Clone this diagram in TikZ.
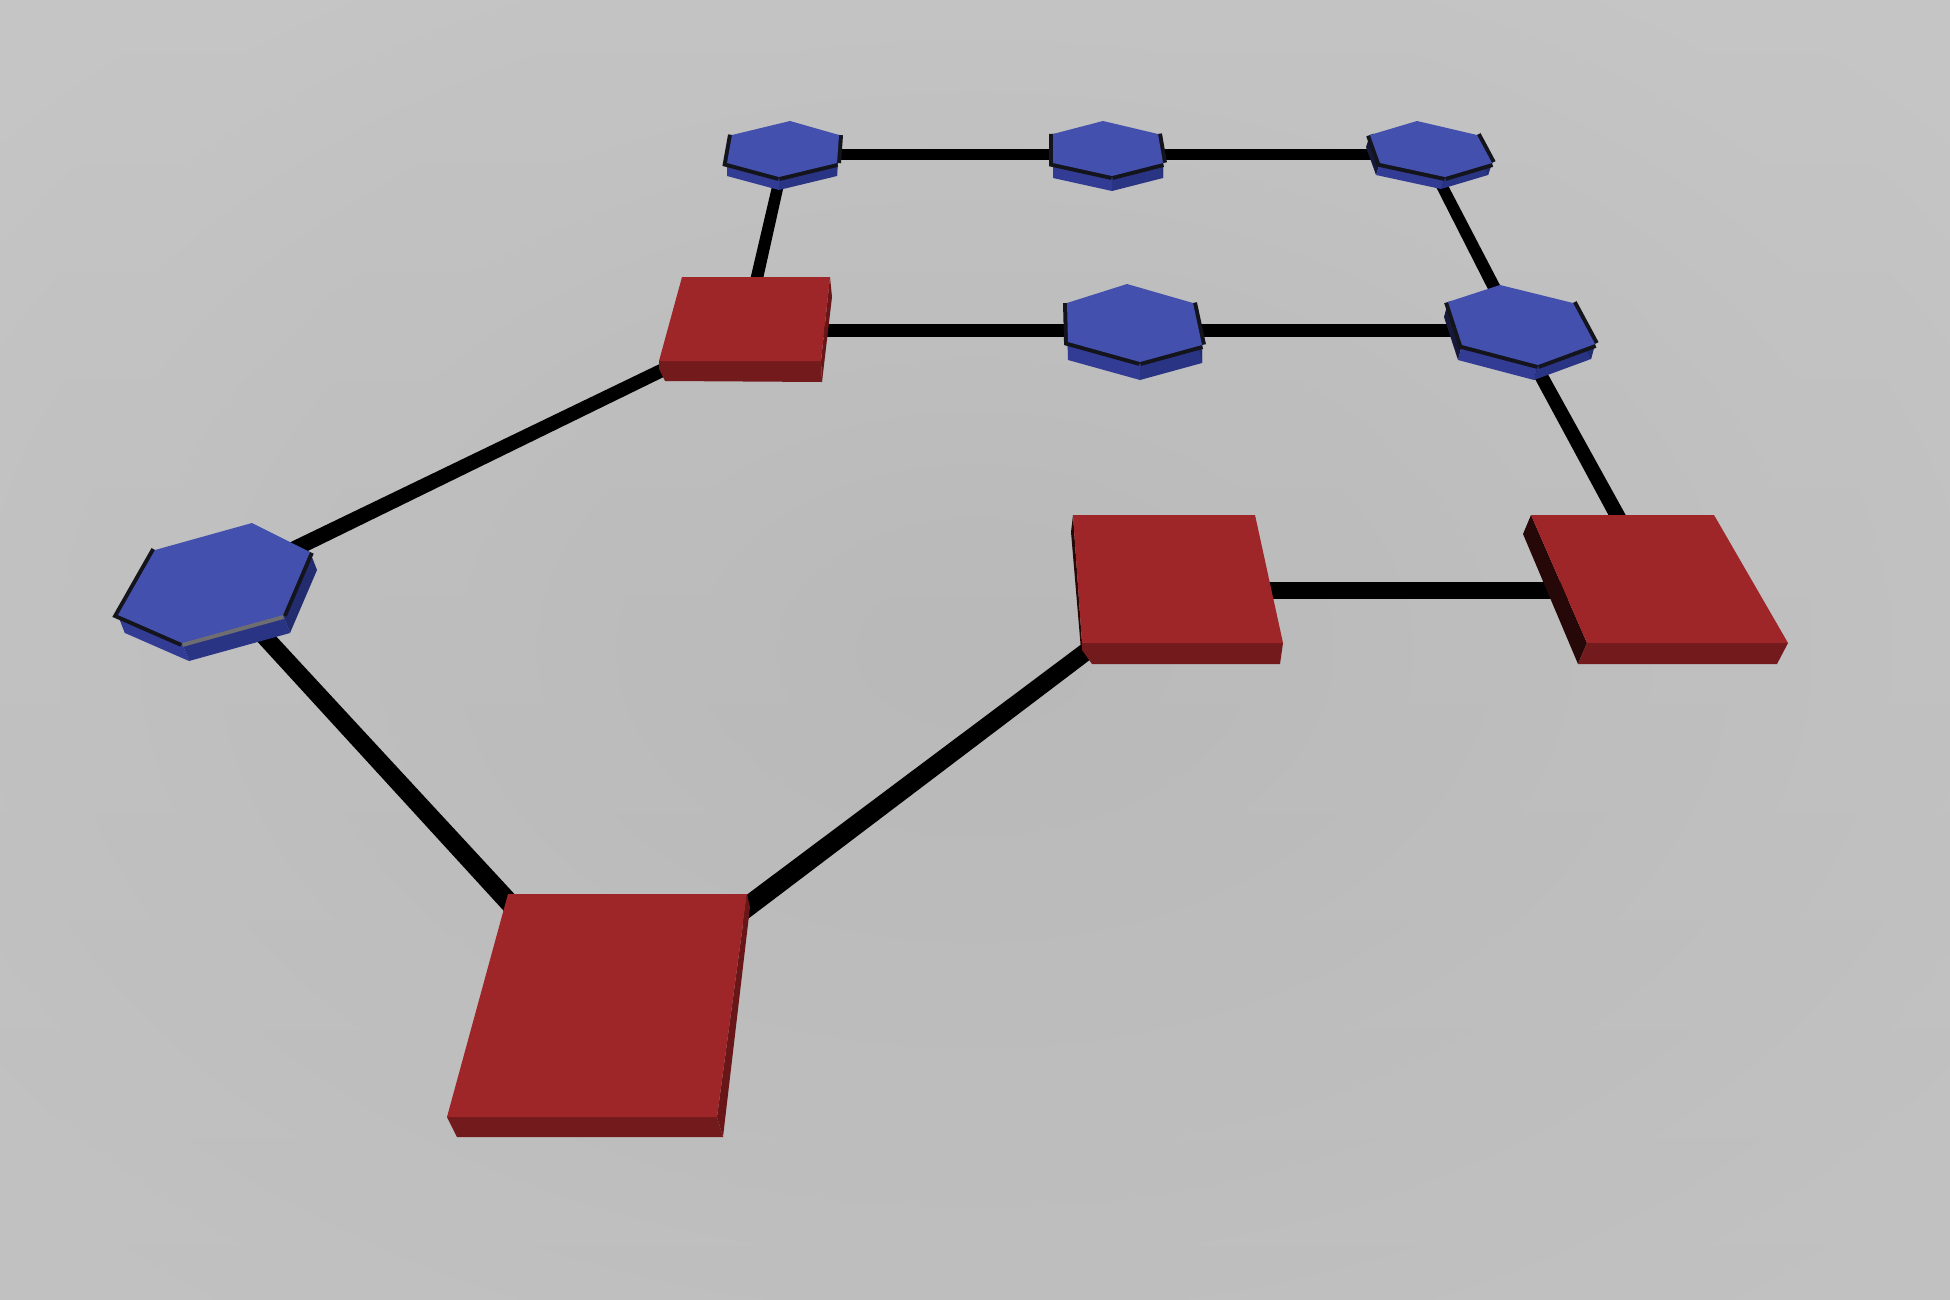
\documentclass[tikz,border=0pt]{standalone}
\usetikzlibrary{calc}
\definecolor{bgtop}{RGB}{198,199,198}
\definecolor{bgmid}{RGB}{180,181,180}
\definecolor{bgouter}{RGB}{196,197,196}
\definecolor{bgbot}{RGB}{186,187,186}
\definecolor{hexTop}{RGB}{67,80,174}
\definecolor{hexSideA}{RGB}{50,60,148}
\definecolor{hexSideB}{RGB}{42,52,132}
\definecolor{hexRight}{RGB}{36,44,112}
\definecolor{hexLeft}{RGB}{22,25,60}
\definecolor{bandDark}{RGB}{20,20,28}
\definecolor{bandGrey}{RGB}{110,110,112}
\definecolor{redTop}{RGB}{158,37,40}
\definecolor{redFront}{RGB}{115,26,29}
\definecolor{redRight}{RGB}{105,22,25}
\definecolor{redLeft}{RGB}{38,8,8}
\tikzset{
  conncol/.style={fill=black},
  hextop/.style={fill=hexTop},
  hexsidea/.style={fill=hexSideA},
  hexsideb/.style={fill=hexSideB},
  hexright/.style={fill=hexRight},
  hexleft/.style={fill=hexLeft},
  hexband/.style={draw=bandDark,line width=8pt},
  redtop/.style={fill=redTop},
  redfront/.style={fill=redFront},
  redright/.style={fill=redRight},
  redleft/.style={fill=redLeft}
}
% connector with tapering width: #1,#2 named coordinates, #3,#4 half widths
\newcommand\conn[4]{%
  \fill[conncol] ($(#1)!#3!90:(#2)$) -- ($(#1)!#3!-90:(#2)$) --
    ($(#2)!#4!90:(#1)$) -- ($(#2)!#4!-90:(#1)$) -- cycle;}
% extruded hexagon: six top vertices, offset, colour of lower-right band
\newcommand\hexbody[8]{%
  \fill[hexleft] (#1) -- (#6) -- ($(#6)+(#7)$) -- ($(#1)+(#7)$) -- cycle;
  \fill[hexsidea] (#6) -- (#5) -- ($(#5)+(#7)$) -- ($(#6)+(#7)$) -- cycle;
  \fill[hexsideb] (#5) -- (#4) -- ($(#4)+(#7)$) -- ($(#5)+(#7)$) -- cycle;
  \fill[hexright] (#4) -- (#3) -- ($(#3)+(#7)$) -- ($(#4)+(#7)$) -- cycle;
  \draw[hexband] (#1) -- (#6) -- (#5);
  \draw[hexband,draw=#8] (#5) -- (#4);
  \draw[hexband] (#4) -- (#3);
  \fill[hextop] (#1) -- (#2) -- (#3) -- (#4) -- (#5) -- (#6) -- cycle;}
\begin{document}
\begin{tikzpicture}[x=1pt,y=-1pt]
\useasboundingbox (0,0) rectangle (1950,1300);
\shade[inner color=bgmid,outer color=bgouter] (-300,-200) rectangle (2250,1500);
\shade[top color=bgtop,bottom color=bgbot,opacity=0.35] (0,0) rectangle (1950,1300);
% anchors (ground centres of the elements)
\coordinate (A) at (218,586);
\coordinate (B) at (785,155);
\coordinate (C) at (1108,155);
\coordinate (D) at (1426,155);
\coordinate (E) at (1134,330);
\coordinate (F) at (1516,330);
\coordinate (G) at (745,330);
\coordinate (H) at (1168,590);
\coordinate (I) at (1658,590);
\coordinate (J) at (609,1011);
% connectors
\conn{B}{C}{5.5pt}{5.5pt}
\conn{C}{D}{5.5pt}{5.5pt}
\conn{B}{G}{5.5pt}{6.5pt}
\conn{D}{F}{5.5pt}{6.5pt}
\conn{G}{E}{6.5pt}{6.5pt}
\conn{E}{F}{6.5pt}{6.5pt}
\conn{F}{I}{6.5pt}{8pt}
\conn{H}{I}{8.5pt}{8.5pt}
\conn{A}{G}{8pt}{6.5pt}
\conn{A}{J}{8.5pt}{10pt}
\conn{J}{H}{10.5pt}{8.5pt}
% hexagons
\hexbody{155,550}{252,523}{310,552}{283,615}{182,643}{118,615}{7,18}{bandGrey}
\hexbody{732,135}{790,121}{839,135}{837,163}{779,177}{727,163}{0,13}{bandDark}
\hexbody{1053,134}{1103,121}{1158,134}{1163,163}{1112,176}{1053,163}{0,15}{bandDark}
\hexbody{1370,135}{1417,121}{1477,135}{1492,163}{1445,177}{1380,163}{-4,12}{bandDark}
\hexbody{1067,303}{1127,284}{1193,303}{1202,345}{1140,362}{1068,342}{0,18}{bandDark}
\hexbody{1448,302}{1500,285}{1573,303}{1595,344}{1538,365}{1462,345}{-4,15}{bandDark}
% red square G
\fill[redright] (830,277) -- (832,297) -- (822,382) -- (821,361) -- cycle;
\fill[redfront] (659,361) -- (821,361) -- (822,382) -- (665,381) -- (659,369) -- cycle;
\fill[redtop] (682,277) -- (830,277) -- (821,361) -- (659,361) -- cycle;
% red square H
\fill[redleft] (1073,515) -- (1071,532) -- (1081,650) -- (1082,643) -- cycle;
\fill[redfront] (1082,643) -- (1283,643) -- (1280,664) -- (1092,664) -- (1082,650) -- cycle;
\fill[redtop] (1073,515) -- (1255,515) -- (1283,643) -- (1082,643) -- cycle;
% red square I
\fill[redleft] (1531,515) -- (1523,534) -- (1578,664) -- (1587,643) -- cycle;
\fill[redfront] (1587,643) -- (1788,643) -- (1777,664) -- (1578,664) -- cycle;
\fill[redtop] (1531,515) -- (1714,515) -- (1788,643) -- (1587,643) -- cycle;
% red square J
\fill[redright] (747,894) -- (750,907) -- (723,1137) -- (717,1117) -- cycle;
\fill[redfront] (447,1117) -- (717,1117) -- (723,1137) -- (457,1137) -- cycle;
\fill[redtop] (508,894) -- (747,894) -- (717,1117) -- (447,1117) -- cycle;
\end{tikzpicture}
\end{document}
